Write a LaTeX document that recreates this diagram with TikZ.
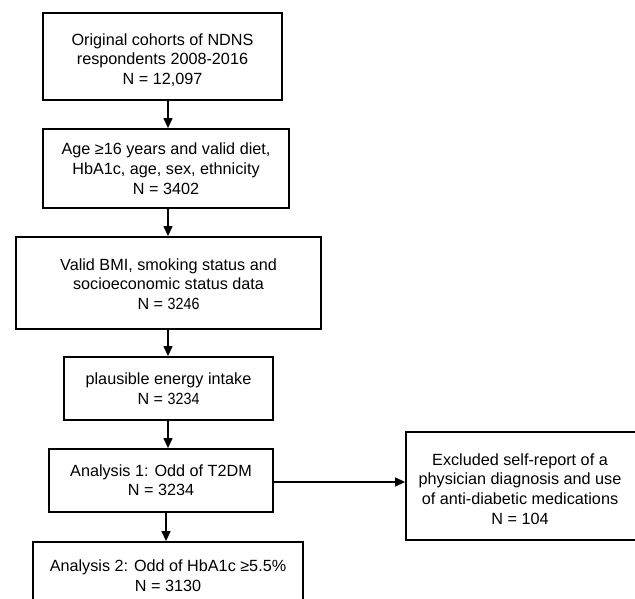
\documentclass[tikz,border=0pt]{standalone}
\usepackage{fontspec}
\setmainfont{Liberation Sans}
\newfontfamily\narrowdigits[FakeStretch=0.88]{Liberation Sans}
\usetikzlibrary{arrows.meta}
\newcommand\lowertext[2]{\raisebox{-#1}[\height][\depth]{\begin{tabular}{@{}c@{}}#2\end{tabular}}}
\begin{document}
\begin{tikzpicture}[x=1pt,y=-1pt,
  flowbox/.style={draw, line width=1.8pt, inner sep=0pt, align=center,
    font=\fontsize{16.2}{19.8}\selectfont},
  flowarrow/.style={line width=1.3pt, -{Triangle[length=10pt,width=9pt]}}]
\clip (0,0) rectangle (635,599);
\fill[white] (0,0) rectangle (635,599);
\node[flowbox, minimum width=239pt, minimum height=87pt] (b1) at (162.5,56.5)
  {\lowertext{4.5pt}{Original cohorts of NDNS\\respondents 2008-2016\\N = 12,097}};
\node[flowbox, minimum width=246pt, minimum height=79pt] (b2) at (166,168.5)
  {\lowertext{2pt}{Age ≥16 years and valid diet,\\HbA1c, age, sex, ethnicity\\N = 3402}};
\node[flowbox, minimum width=305pt, minimum height=92pt] (b3) at (168.5,283)
  {\lowertext{3pt}{Valid BMI, smoking status and\\socioeconomic status data\\N = {\narrowdigits 3246}}};
\node[flowbox, minimum width=209pt, minimum height=63pt] (b4) at (168.5,388.5)
  {\lowertext{2pt}{plausible energy intake\\N = {\narrowdigits 3234}}};
\node[flowbox, minimum width=224pt, minimum height=63pt] (b5) at (161,480.5)
  {\lowertext{1.5pt}{Analysis 1: Odd of T2DM\\N = 3234}};
\node[flowbox, minimum width=270pt, minimum height=68pt] (b6) at (168,576)
  {\lowertext{1.5pt}{Analysis 2: Odd of HbA1c ≥5.5\%\\N = 3130}};
\node[flowbox, minimum width=240pt, minimum height=108pt] (b7) at (526,486)
  {};
\node[font=\fontsize{16.2}{19.8}\selectfont, align=center, inner sep=0pt] (t7) at (520,489)
  {Excluded self-report of a\\physician diagnosis and use\\of anti-diabetic medications\\N = 104};
\coordinate (ax) at (168,0);
\coordinate (ax3) at (166,0);
\coordinate (ay) at (0,482);
\draw[flowarrow] (b1.south -| ax) -- (b2.north -| ax);
\draw[flowarrow] (b2.south -| ax) -- (b3.north -| ax);
\draw[flowarrow] (b3.south -| ax) -- (b4.north -| ax);
\draw[flowarrow] (b4.south -| ax) -- (b5.north -| ax);
\draw[flowarrow] (b5.south -| ax3) -- (b6.north -| ax3);
\draw[flowarrow] (b5.east |- ay) -- (b7.west |- ay);
\end{tikzpicture}
\end{document}
